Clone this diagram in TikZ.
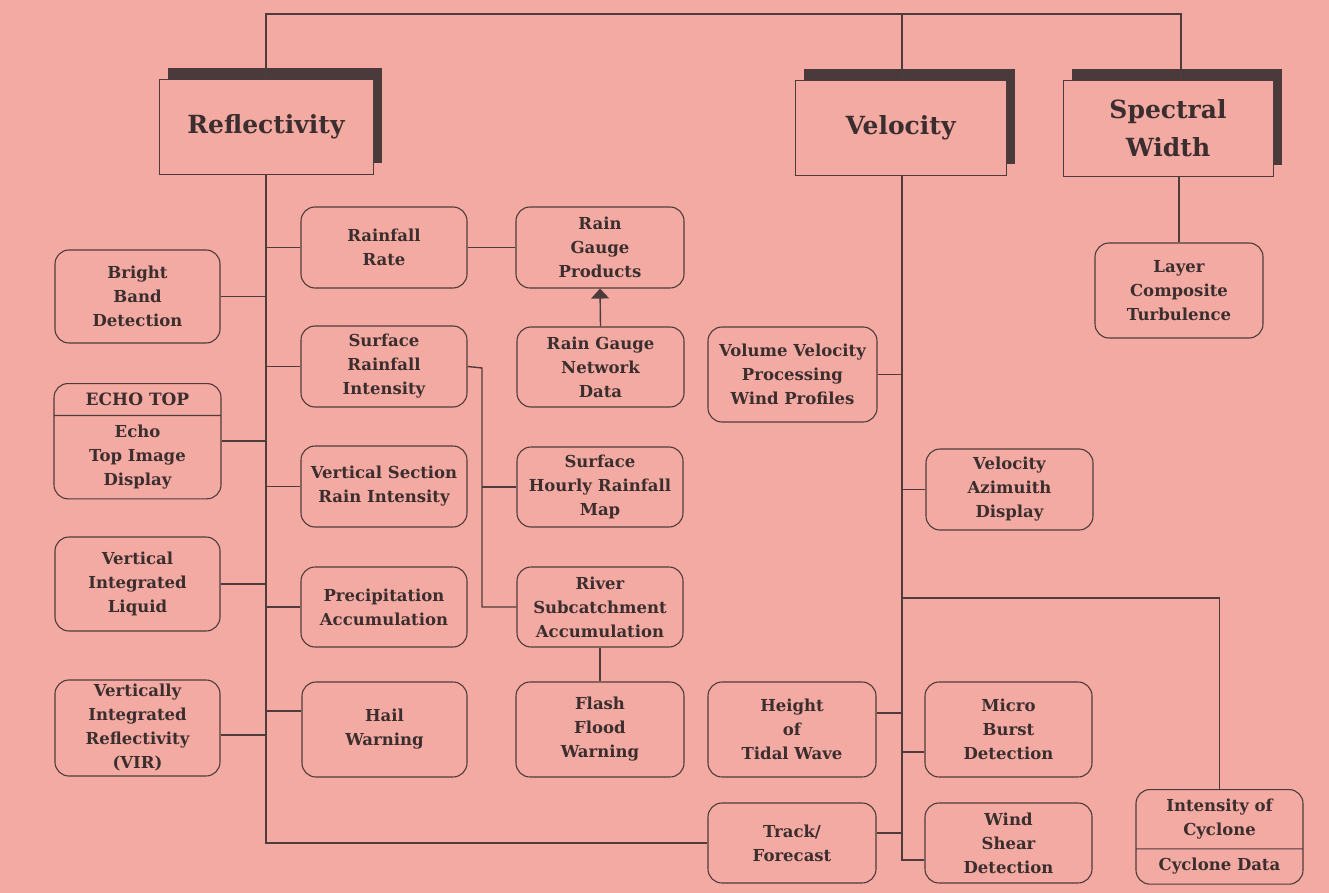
\documentclass[tikz,border=0pt]{standalone}
\usepackage{fontspec}
\setmainfont{DejaVu Serif}
\usetikzlibrary{shadows,shapes.multipart,arrows.meta}
\definecolor{bg}{HTML}{F2AAA2}
\definecolor{ln}{HTML}{4E3C3C}
\definecolor{sh}{HTML}{4A3A3C}
\definecolor{txt}{HTML}{3C2E2E}
\newcommand\bodyf{\bfseries\fontsize{16.5}{24}\selectfont}
\newcommand\headf{\bfseries\fontsize{25}{38}\selectfont}
\tikzset{
  rbox/.style={draw=ln, line width=1.1pt, rounded corners=14pt, fill=bg, align=center,
    text=txt, font=\bodyf, inner sep=2pt},
  hbox/.style={draw=ln, line width=0.8pt, fill=bg, align=center, text=txt, font=\headf,
    general shadow={fill=sh, shadow xshift=9pt, shadow yshift=11pt}},
  conn/.style={draw=ln, line width=1.4pt},
}
\begin{document}
\begin{tikzpicture}[x=1pt,y=-1pt]
\path[fill=bg] (0,0) rectangle (1329,893);
% headings
\node[hbox, minimum width=214pt, minimum height=95pt] (refl) at (266,126.5) {Reflectivity};
\node[hbox, minimum width=211pt, minimum height=95pt] (vel) at (900.5,127.5) {Velocity};
\node[hbox, minimum width=210pt, minimum height=96pt] (spec) at (1168,128) {Spectral\\Width};
% left column
\node[rbox, minimum width=165pt, minimum height=93pt] (bb) at (137.5,296.5) {Bright\\Band\\Detection};
\node[rbox, rectangle split, rectangle split parts=2, rectangle split draw splits,
  minimum width=167pt, inner ysep=9pt, anchor=north] (echo) at (137.5,383)
  {\nodepart{one}{\fontsize{17}{24}\selectfont ECHO TOP}\nodepart{two}Echo\\Top Image\\Display};
\node[rbox, minimum width=165pt, minimum height=94pt] (vil) at (137.5,584) {Vertical\\Integrated\\Liquid};
\node[rbox, minimum width=165pt, minimum height=96pt] (vir) at (137.5,728) {Vertically\\Integrated\\Reflectivity\\(VIR)};
% second column
\node[rbox, minimum width=166pt, minimum height=81pt] (rr) at (384,247.5) {Rainfall\\Rate};
\node[rbox, minimum width=166pt, minimum height=81pt] (sri) at (384,366.5) {Surface\\Rainfall\\Intensity};
\node[rbox, minimum width=166pt, minimum height=81pt] (vsri) at (384,486.5) {Vertical Section\\Rain Intensity};
\node[rbox, minimum width=166pt, minimum height=80pt] (pa) at (384,607) {Precipitation\\Accumulation};
\node[rbox, minimum width=165pt, minimum height=95pt] (hw) at (384.5,729.5) {Hail\\Warning};
% third column
\node[rbox, minimum width=168pt, minimum height=81pt] (rgp) at (600,247.5) {Rain\\Gauge\\Products};
\node[rbox, minimum width=167pt, minimum height=80pt] (rgn) at (600.5,367) {Rain Gauge\\Network\\Data};
\node[rbox, minimum width=166pt, minimum height=80pt] (shr) at (600,487) {Surface\\Hourly Rainfall\\Map};
\node[rbox, minimum width=166pt, minimum height=80pt] (rsa) at (600,607) {River\\Subcatchment\\Accumulation};
\node[rbox, minimum width=168pt, minimum height=95pt] (ffw) at (600,729.5) {Flash\\Flood\\Warning};
% velocity side
\node[rbox, minimum width=169pt, minimum height=95pt] (vvp) at (792.5,374.5) {Volume Velocity\\Processing\\Wind Profiles};
\node[rbox, minimum width=168pt, minimum height=95pt] (htw) at (792,729.5) {Height\\of\\Tidal Wave};
\node[rbox, minimum width=168pt, minimum height=80pt] (tf) at (792,843) {Track/\\Forecast};
\node[rbox, minimum width=167pt, minimum height=81pt] (vad) at (1009.5,489.5) {Velocity\\Azimuith\\Display};
\node[rbox, minimum width=167pt, minimum height=95pt] (mbd) at (1008.5,729.5) {Micro\\Burst\\Detection};
\node[rbox, minimum width=167pt, minimum height=80pt] (wsd) at (1008.5,843) {Wind\\Shear\\Detection};
\node[rbox, rectangle split, rectangle split parts=2, rectangle split draw splits,
  minimum width=167pt, inner ysep=9pt, anchor=north] (ioc) at (1219.5,789)
  {\nodepart{one}Intensity of\\Cyclone\nodepart{two}Cyclone Data};
\node[rbox, minimum width=168pt, minimum height=95pt] (lct) at (1179,290.5) {Layer\\Composite\\Turbulence};
% connectors
\coordinate (tl) at (266,14);
\coordinate (tv) at (902,14);
\coordinate (tr) at (1181,14);
\coordinate (cj) at (902,598);
\coordinate (j) at (482,368);
\draw[conn] (refl.north) -- (tl) -- (tr) -- (tr |- spec.north);
\draw[conn] (tv) -- (tv |- vel.north);
\draw[conn] (refl.south) |- (tf.west);
\draw[conn] (bb.east) -- (bb.east -| refl.south);
\draw[conn] (echo.east) -- (echo.east -| refl.south);
\draw[conn] (vil.east) -- (vil.east -| refl.south);
\draw[conn] ([yshift=-7pt]vir.east) -- ([yshift=-7pt]vir.east -| refl.south);
\draw[conn] (rr.west) -- (rr.west -| refl.south);
\draw[conn] (sri.west) -- (sri.west -| refl.south);
\draw[conn] (vsri.west) -- (vsri.west -| refl.south);
\draw[conn] (pa.west) -- (pa.west -| refl.south);
\draw[conn] ([yshift=18.5pt]hw.west) -- ([yshift=18.5pt]hw.west -| refl.south);
\draw[conn] (rr.east) -- (rgp.west);
\draw[conn, -{Triangle[length=10pt,width=18pt]}] (rgn.north) -- (rgp.south);
\draw[conn] (sri.east) -- (j) |- (rsa.west);
\draw[conn] (j |- shr.west) -- (shr.west);
\draw[conn] (rsa.south) -- (ffw.north);
\draw[conn] (tv |- vel.south) |- ([yshift=-17pt]wsd.west);
\draw[conn] (vvp.east) -- (vvp.east -| tv);
\draw[conn] (vad.west) -- (vad.west -| tv);
\draw[conn] ([yshift=16.5pt]htw.east) -- ([yshift=16.5pt]htw.east -| tv);
\draw[conn] ([yshift=-22.5pt]mbd.west) -- ([yshift=-22.5pt]mbd.west -| tv);
\draw[conn] ([yshift=10pt]tf.east) -- ([yshift=10pt]tf.east -| tv);
\draw[conn] (cj) -| (ioc.north);
\draw[conn] (spec.south -| lct.north) -- (lct.north);
\end{tikzpicture}
\end{document}
